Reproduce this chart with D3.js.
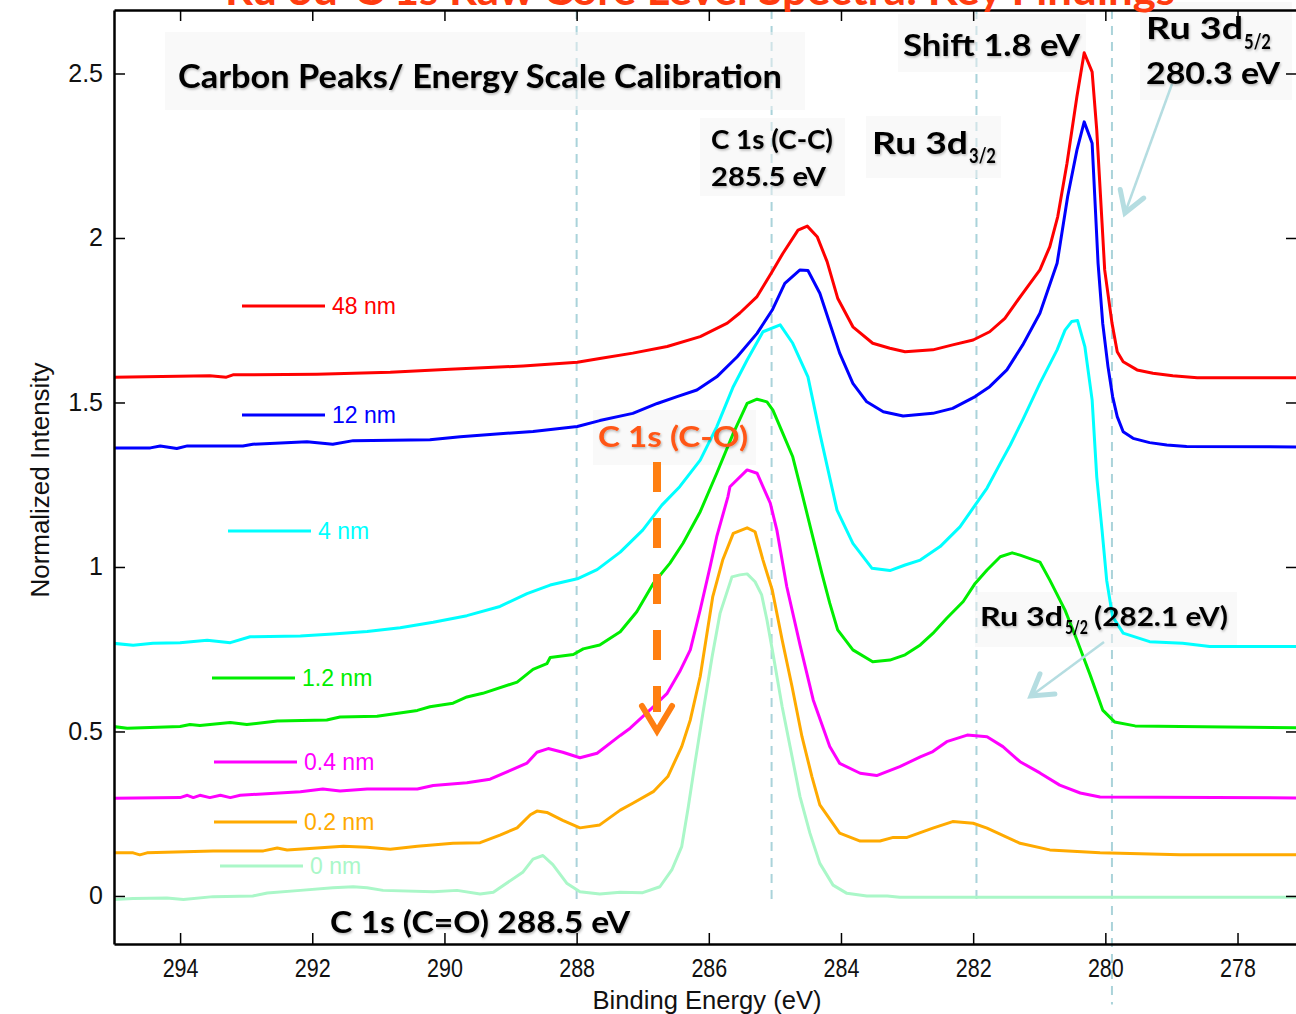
<!DOCTYPE html>
<meta charset="utf-8">
<style>
  body { margin: 0; background: #fff; }
  svg { display: block; }
</style>
<svg width="1296" height="1014"></svg>
<script src="https://d3js.org/d3.v7.min.js"></script>
<script>

// ---- data (binding energy eV, normalized intensity) ----
var series48 = [[295.0,1.577],[293.55,1.581],[293.3,1.577],[293.2,1.584],[291.93,1.586],[290.82,1.592],[289.92,1.601],[288.81,1.611],[287.99,1.622],[287.65,1.634],[287.15,1.650],[286.63,1.670],[286.13,1.700],[285.72,1.741],[285.53,1.772],[285.27,1.822],[285.04,1.898],[284.88,1.953],[284.65,2.024],[284.51,2.036],[284.36,2.004],[284.21,1.928],[284.05,1.817],[283.82,1.730],[283.52,1.680],[283.26,1.665],[283.03,1.654],[282.61,1.660],[282.31,1.675],[282.0,1.690],[281.75,1.715],[281.52,1.756],[281.25,1.832],[280.99,1.903],[280.84,1.974],[280.72,2.065],[280.58,2.227],[280.43,2.430],[280.32,2.563],[280.20,2.505],[280.13,2.328],[280.05,2.046],[280.01,1.903],[279.90,1.742],[279.82,1.654],[279.73,1.624],[279.52,1.599],[279.28,1.589],[278.98,1.581],[278.61,1.575],[277.1,1.575]];

var series12 = [[295.0,1.362],[294.45,1.362],[294.30,1.368],[294.05,1.360],[293.89,1.368],[293.05,1.368],[292.90,1.373],[292.08,1.381],[291.69,1.373],[291.38,1.384],[290.22,1.387],[289.76,1.396],[289.16,1.405],[288.66,1.412],[287.99,1.427],[287.65,1.445],[287.15,1.467],[286.78,1.497],[286.48,1.518],[286.18,1.538],[285.88,1.578],[285.57,1.639],[285.27,1.710],[285.04,1.781],[284.85,1.862],[284.62,1.903],[284.50,1.901],[284.32,1.832],[284.17,1.741],[284.02,1.650],[283.82,1.558],[283.61,1.502],[283.36,1.472],[283.06,1.459],[282.61,1.467],[282.31,1.482],[281.97,1.518],[281.75,1.548],[281.49,1.599],[281.25,1.675],[280.99,1.771],[280.73,1.923],[280.57,2.126],[280.43,2.267],[280.32,2.353],[280.20,2.288],[280.16,2.126],[280.11,1.923],[280.04,1.741],[279.96,1.609],[279.89,1.518],[279.82,1.457],[279.73,1.411],[279.58,1.391],[279.33,1.378],[279.07,1.371],[278.77,1.366],[277.1,1.365]];

var series4 = [[295.01,0.768],[294.71,0.762],[294.41,0.768],[294.0,0.770],[293.59,0.777],[293.24,0.770],[292.94,0.788],[292.18,0.790],[291.69,0.796],[291.17,0.804],[290.67,0.815],[290.17,0.832],[289.66,0.852],[289.16,0.880],[288.75,0.919],[288.40,0.945],[287.99,0.964],[287.69,0.992],[287.34,1.045],[287.0,1.112],[286.71,1.188],[286.44,1.244],[286.13,1.325],[285.88,1.426],[285.63,1.548],[285.42,1.629],[285.18,1.715],[284.92,1.736],[284.73,1.680],[284.50,1.578],[284.32,1.406],[284.06,1.173],[283.82,1.072],[283.53,0.996],[283.26,0.989],[283.03,1.006],[282.80,1.021],[282.50,1.062],[282.20,1.122],[281.97,1.188],[281.79,1.240],[281.59,1.315],[281.44,1.370],[281.25,1.447],[280.99,1.558],[280.73,1.660],[280.61,1.720],[280.51,1.746],[280.42,1.749],[280.31,1.670],[280.20,1.508],[280.13,1.274],[280.05,1.112],[279.98,0.960],[279.89,0.849],[279.73,0.799],[279.33,0.773],[278.83,0.768],[278.42,0.758],[277.1,0.758]];

var series1p2 = [[295.01,0.515],[294.80,0.510],[294.0,0.515],[293.85,0.521],[293.70,0.518],[293.24,0.527],[292.99,0.521],[292.53,0.532],[291.78,0.535],[291.58,0.544],[291.02,0.546],[290.41,0.564],[290.22,0.575],[289.87,0.586],[289.66,0.605],[289.42,0.616],[288.90,0.650],[288.66,0.689],[288.45,0.706],[288.40,0.725],[288.05,0.734],[287.90,0.751],[287.65,0.763],[287.34,0.803],[287.09,0.864],[286.84,0.950],[286.59,1.011],[286.39,1.072],[286.13,1.168],[285.88,1.285],[285.63,1.406],[285.42,1.497],[285.27,1.510],[285.12,1.502],[285.03,1.477],[284.88,1.406],[284.73,1.335],[284.59,1.224],[284.44,1.102],[284.29,0.981],[284.17,0.890],[284.05,0.809],[283.82,0.748],[283.52,0.712],[283.26,0.717],[283.03,0.733],[282.80,0.763],[282.61,0.798],[282.40,0.844],[282.15,0.895],[281.97,0.950],[281.79,0.991],[281.59,1.031],[281.41,1.043],[281.29,1.036],[280.99,1.015],[280.84,0.960],[280.61,0.869],[280.43,0.778],[280.23,0.672],[280.04,0.565],[279.86,0.529],[279.55,0.517],[277.1,0.511]];

var series0p4 = [[295.01,0.297],[294.0,0.299],[293.89,0.306],[293.80,0.299],[293.70,0.306],[293.55,0.299],[293.39,0.306],[293.24,0.299],[293.09,0.306],[292.18,0.317],[291.84,0.325],[291.58,0.319],[291.17,0.325],[290.41,0.325],[290.17,0.336],[289.66,0.344],[289.31,0.355],[289.01,0.381],[288.75,0.404],[288.60,0.437],[288.43,0.448],[288.21,0.437],[287.95,0.420],[287.69,0.434],[287.34,0.488],[287.19,0.510],[286.84,0.575],[286.63,0.616],[286.44,0.682],[286.28,0.748],[286.13,0.870],[285.98,1.001],[285.88,1.092],[285.71,1.214],[285.68,1.244],[285.42,1.295],[285.27,1.285],[285.07,1.194],[284.97,1.112],[284.82,0.940],[284.62,0.763],[284.42,0.596],[284.17,0.454],[284.02,0.403],[283.71,0.373],[283.46,0.366],[283.11,0.393],[282.80,0.423],[282.61,0.439],[282.40,0.469],[282.09,0.489],[281.79,0.484],[281.55,0.454],[281.29,0.408],[280.99,0.374],[280.69,0.337],[280.38,0.313],[280.08,0.301],[277.1,0.298]];

var series0p2 = [[295.01,0.131],[294.71,0.131],[294.61,0.125],[294.50,0.131],[293.50,0.137],[292.74,0.137],[292.53,0.146],[292.38,0.140],[291.53,0.151],[291.17,0.148],[290.82,0.142],[290.41,0.151],[289.87,0.160],[289.46,0.162],[289.16,0.185],[288.90,0.207],[288.70,0.247],[288.60,0.258],[288.45,0.254],[288.21,0.230],[287.95,0.207],[287.65,0.216],[287.34,0.261],[287.15,0.282],[286.84,0.317],[286.62,0.363],[286.41,0.454],[286.28,0.535],[286.13,0.667],[285.94,0.910],[285.79,1.021],[285.63,1.102],[285.42,1.119],[285.30,1.107],[285.18,1.021],[285.04,0.930],[284.89,0.778],[284.74,0.636],[284.59,0.484],[284.44,0.363],[284.32,0.277],[284.02,0.191],[283.71,0.167],[283.41,0.167],[283.21,0.178],[283.0,0.178],[282.61,0.206],[282.31,0.226],[282.0,0.221],[281.79,0.206],[281.29,0.160],[280.84,0.140],[280.08,0.131],[278.87,0.125],[277.1,0.125]];

var series0 = [[295.01,-0.011],[294.71,-0.008],[294.20,-0.006],[293.95,-0.011],[293.50,-0.002],[292.90,0.0],[292.68,0.009],[292.18,0.017],[291.69,0.025],[291.38,0.028],[291.17,0.025],[290.93,0.017],[290.17,0.013],[289.81,0.017],[289.46,0.006],[289.26,0.011],[288.81,0.073],[288.66,0.112],[288.51,0.123],[288.36,0.095],[288.15,0.039],[287.95,0.013],[287.65,0.006],[287.34,0.011],[287.0,0.010],[286.74,0.028],[286.56,0.079],[286.41,0.150],[286.31,0.271],[286.21,0.403],[286.09,0.555],[285.95,0.727],[285.83,0.859],[285.65,0.970],[285.53,0.976],[285.42,0.979],[285.30,0.955],[285.20,0.915],[285.12,0.839],[285.03,0.738],[284.89,0.575],[284.77,0.454],[284.62,0.302],[284.47,0.191],[284.32,0.099],[284.12,0.033],[283.91,0.008],[283.61,0.0],[283.30,0.0],[283.11,-0.004],[277.1,-0.004]];

var seriesNames = ["48 nm", "12 nm", "4 nm", "1.2 nm", "0.4 nm", "0.2 nm", "0 nm"];
var seriesData = [series48, series12, series4, series1p2, series0p4, series0p2, series0];
var seriesColors = ["#ff0000", "#0000ff", "#00ffff", "#00ee00", "#ff00ff", "#ffaa00", "#aaf7c8"];

var xTicks = [294, 292, 290, 288, 286, 284, 282, 280, 278];
var yTicks = [0, 0.5, 1, 1.5, 2, 2.5];
var refEnergies = [288, 285.05, 281.95, 279.9];   // dashed reference lines
var refBottoms = [-0.01, -0.03, -0.01, -0.33];

(function () {

  // ---- layout ----
  var svg = d3.select("svg");
  var pLeft = 114, pRight = 1297, pTop = 10, pBottom = 944;

  var x = d3.scaleLinear().domain([295, 277.1]).range([pLeft, pRight]);
  var y = d3.scaleLinear().domain([-0.146, 2.693]).range([pBottom, pTop]);

  var defs = svg.append("defs");
  defs.append("clipPath").attr("id", "plot")
    .append("rect").attr("x", pLeft).attr("y", pTop).attr("width", pRight - pLeft).attr("height", pBottom - pTop);
  var shadow = defs.append("filter").attr("id", "shadow")
    .attr("x", "-5%").attr("y", "-20%").attr("width", "110%").attr("height", "140%");
  shadow.append("feDropShadow").attr("dx", 1).attr("dy", 1.5)
    .attr("stdDeviation", 1.2).attr("flood-color", "#000").attr("flood-opacity", 0.28);

  // reference dashed lines
  svg.append("g").selectAll("line").data(refEnergies).join("line")
    .attr("x1", d => x(d)).attr("x2", d => x(d))
    .attr("y1", pTop).attr("y2", (d, i) => y(refBottoms[i]))
    .attr("stroke", "#aad3da").attr("stroke-width", 2)
    .attr("stroke-dasharray", "9,7");

  // light label boxes
  var boxes = [
    [165, 32, 640, 78], [700, 118, 145, 78], [866, 116, 135, 62],
    [898, 14, 188, 58], [1140, 2, 152, 98], [593, 410, 163, 55], [975, 592, 262, 55]
  ];
  svg.append("g").selectAll("rect").data(boxes).join("rect")
    .attr("x", d => d[0]).attr("y", d => d[1]).attr("width", d => d[2]).attr("height", d => d[3])
    .attr("fill", "#f3f3f3").attr("opacity", 0.5);

  // spectra
  var line = d3.line().x(d => x(d[0])).y(d => y(d[1]));
  svg.append("g").attr("clip-path", "url(#plot)")
    .selectAll("path").data(seriesData).join("path")
    .attr("d", line)
    .attr("fill", "none")
    .attr("stroke", (d, i) => seriesColors[i])
    .attr("stroke-width", 3)
    .attr("stroke-linejoin", "round");

  // inline legend
  var legendPos = [[242, 306], [242, 415], [228, 531], [212, 678], [214, 762], [214, 822], [220, 866]];
  var lg = svg.append("g");
  seriesNames.forEach(function (name, i) {
    var p = legendPos[i];
    lg.append("line").attr("x1", p[0]).attr("x2", p[0] + 83).attr("y1", p[1]).attr("y2", p[1])
      .attr("stroke", seriesColors[i]).attr("stroke-width", 3);
    lg.append("text").attr("x", p[0] + 90).attr("y", p[1] + 8)
      .attr("fill", seriesColors[i])
      .style("font-family", "'Liberation Sans', Arial, sans-serif").style("font-size", "23px")
      .text(name);
  });

  // axes
  var axisFont = "'Liberation Sans', Arial, sans-serif";
  var gx = svg.append("g").attr("transform", "translate(0," + pBottom + ")")
    .call(d3.axisBottom(x).tickValues(xTicks).tickSizeInner(-11).tickSizeOuter(0).tickPadding(15).tickFormat(d3.format("d")));
  var gy = svg.append("g").attr("transform", "translate(" + pLeft + ",0)")
    .call(d3.axisLeft(y).tickValues(yTicks).tickSizeInner(-11).tickSizeOuter(0).tickPadding(11).tickFormat(d3.format("~g")));
  var gt = svg.append("g").attr("transform", "translate(0," + pTop + ")")
    .call(d3.axisTop(x).tickValues(xTicks).tickSizeInner(-11).tickSizeOuter(0).tickFormat(""));
  var gr = svg.append("g").attr("transform", "translate(" + pRight + ",0)")
    .call(d3.axisRight(y).tickValues(yTicks).tickSizeInner(-11).tickSizeOuter(0).tickFormat(""));

  [gx, gy, gt, gr].forEach(function (g) {
    g.select(".domain").attr("stroke", "#000").attr("stroke-width", 2.5);
    g.selectAll(".tick line").attr("stroke", "#000").attr("stroke-width", 1.5);
    g.selectAll(".tick text").attr("fill", "#111")
      .style("font-family", axisFont).style("font-size", "25px");
  });
  gx.selectAll(".tick text").attr("transform", "scale(0.86,1)");

  svg.append("text").attr("x", 707).attr("y", 1009).attr("text-anchor", "middle")
    .attr("textLength", 229).attr("lengthAdjust", "spacingAndGlyphs")
    .style("font-family", axisFont).style("font-size", "25px").attr("fill", "#111")
    .text("Binding Energy (eV)");
  svg.append("text").attr("transform", "translate(49,480) rotate(-90)").attr("text-anchor", "middle")
    .attr("textLength", 235).attr("lengthAdjust", "spacingAndGlyphs")
    .style("font-family", axisFont).style("font-size", "25px").attr("fill", "#111")
    .text("Normalized Intensity");

  // arrows
  function arrow(g, x1, y1, x2, y2, color, w, head) {
    g.append("line").attr("x1", x1).attr("y1", y1).attr("x2", x2).attr("y2", y2)
      .attr("stroke", color).attr("stroke-width", w);
    var a = Math.atan2(y2 - y1, x2 - x1), s = 0.55;
    var p = [
      [x2 - head * Math.cos(a - s), y2 - head * Math.sin(a - s)],
      [x2, y2],
      [x2 - head * Math.cos(a + s), y2 - head * Math.sin(a + s)]
    ];
    g.append("path").attr("d", d3.line()(p)).attr("fill", "none")
      .attr("stroke", color).attr("stroke-width", w + 2.5)
      .attr("stroke-linecap", "round");
  }
  var ag = svg.append("g");
  arrow(ag, 1172, 84, 1125, 213, "#b5dde1", 2.5, 24);
  arrow(ag, 1104, 642, 1031, 696, "#b5dde1", 2.5, 24);
  ag.append("line").attr("x1", 657).attr("x2", 657).attr("y1", 462).attr("y2", 712)
    .attr("stroke", "#ff7f11").attr("stroke-width", 8).attr("stroke-dasharray", "30,26");
  ag.append("path").attr("d", "M642,706L657,731L672,706").attr("fill", "none")
    .attr("stroke", "#ff7f11").attr("stroke-width", 6).attr("stroke-linecap", "round");

  // annotation text
  var labelFont = "Lato, 'Open Sans', sans-serif";
  function label(txt, px, py, size, len, color, noShadow) {
    return svg.append("text").attr("x", px).attr("y", py)
      .attr("textLength", len).attr("lengthAdjust", "spacingAndGlyphs")
      .attr("fill", color || "#000")
      .attr("filter", noShadow ? null : "url(#shadow)")
      .style("font-family", labelFont).style("font-weight", 700).style("font-size", size + "px")
      .text(txt);
  }
  label("Ru 3d-C 1s Raw Core Level Spectra: Key Findings", 225, 5, 42, 950, "#ff3c10", true);
  label("Carbon Peaks/ Energy Scale Calibration", 178, 88, 32, 604);
  label("C 1s (C-C)", 711, 149, 27, 122);
  label("285.5 eV", 711, 186, 27, 115);
  label("Ru 3d", 872, 154, 30, 96);
  label("3/2", 969, 163, 20, 27);
  label("Shift 1.8 eV", 903, 56, 31, 177);
  label("Ru 3d", 1146, 39, 30, 97);
  label("5/2", 1244, 49, 20, 27);
  label("280.3 eV", 1146, 84, 31, 134);
  label("C 1s (C-O)", 598, 447, 28, 150, "#ff5716");
  label("Ru 3d", 980, 626, 27, 83);
  label("5/2", 1065, 634, 18, 23);
  label("(282.1 eV)", 1094, 626, 27, 134);
  label("C 1s (C=O) 288.5 eV", 330, 933, 30, 300);

})();

</script>
